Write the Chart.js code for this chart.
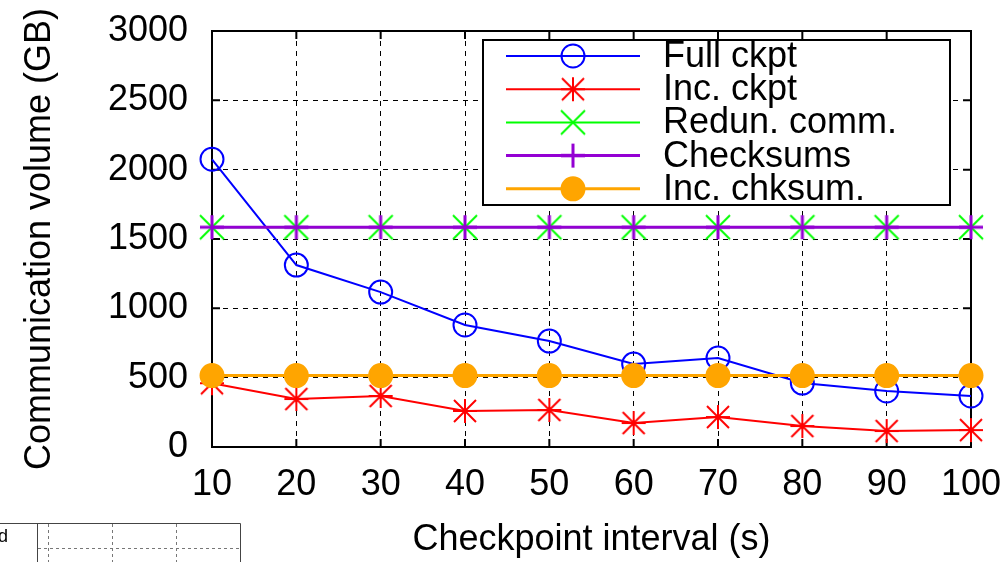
<!DOCTYPE html>
<html>
<head>
<meta charset="utf-8">
<script src="https://cdn.jsdelivr.net/npm/chart.js@4/dist/chart.umd.min.js"></script>
<style>
  html, body { margin: 0; padding: 0; background: #fff; }
  #wrap { width: 1004px; height: 562px; }
</style>
</head>
<body>
<div id="wrap"><canvas id="volChart" width="1004" height="562"></canvas></div>
<script>
// checkpoint intervals (s)
const intervals = ["10", "20", "30", "40", "50", "60", "70", "80", "90", "100"];

// communication volume (GB)
const fullCkpt = [2075, 1312, 1117, 880, 764, 598, 642, 461, 404, 368];
const incCkpt = [460, 346, 368, 260, 267, 173, 216, 151, 115, 122];
const redunComm = [1585, 1585, 1585, 1585, 1585, 1585, 1585, 1585, 1585, 1585];
const checksums = [1585, 1585, 1585, 1585, 1585, 1585, 1585, 1585, 1585, 1585];
const incChksum = [515, 515, 515, 515, 515, 515, 515, 515, 515, 515];

const yTicks = [0, 500, 1000, 1500, 2000, 2500, 3000];

const FONT = "'Liberation Sans', Arial, sans-serif";

// gnuplot-like markers drawn on small canvases
function marker(color, lw, cross, diag, r) {
    const c = document.createElement('canvas');
    const s = 2 * r + 4;
    c.width = s; c.height = s;
    const g = c.getContext('2d');
    const m = s / 2;
    g.strokeStyle = color;
    g.lineWidth = lw;
    g.beginPath();
    if (cross) {
        g.moveTo(m - r, m); g.lineTo(m + r, m);
        g.moveTo(m, m - r); g.lineTo(m, m + r);
    }
    if (diag) {
        const d = diag;
        g.moveTo(m - d, m - d); g.lineTo(m + d, m + d);
        g.moveTo(m - d, m + d); g.lineTo(m + d, m - d);
    }
    g.stroke();
    return c;
}

function series(label, values, color, style, radius, filled, width, order) {
    return {
        label: label,
        data: values,
        borderColor: color,
        backgroundColor: filled ? color : 'rgba(0,0,0,0)',
        pointBackgroundColor: filled ? color : 'rgba(0,0,0,0)',
        pointBorderColor: color,
        pointStyle: style,
        pointRadius: radius,
        pointBorderWidth: 2,
        borderWidth: width,
        tension: 0,
        clip: false,
        order: order
    };
}

const datasets = [
    series("Full ckpt", fullCkpt, '#0000ff', 'circle', 11.5, false, 2, 5),
    series("Inc. ckpt", incCkpt, '#ff0000', marker('#ff0000', 2, true, 11, 12), 12, false, 2, 4),
    series("Redun. comm.", redunComm, '#00ff00', marker('#00ff00', 2, false, 12, 12), 12, false, 2, 3),
    series("Checksums", checksums, '#9400d3', marker('#9400d3', 3, true, 0, 12), 12, false, 3, 2),
    series("Inc. chksum.", incChksum, '#ffa500', 'circle', 11.5, true, 3, 1)
];

// frame, inward ticks, and the stray corner of the neighbouring figure
const frame = {
    id: 'frame',
    beforeDatasetsDraw(chart) {
        const a = chart.chartArea, ctx = chart.ctx;
        const xs = chart.scales.x, ys = chart.scales.y;
        ctx.save();
        ctx.strokeStyle = '#000';
        ctx.lineWidth = 2;
        ctx.strokeRect(a.left, a.top, a.right - a.left, a.bottom - a.top);
        ctx.beginPath();
        yTicks.forEach(v => {
            const y = ys.getPixelForValue(v);
            ctx.moveTo(a.left, y); ctx.lineTo(a.left + 8, y);
            ctx.moveTo(a.right, y); ctx.lineTo(a.right - 8, y);
        });
        intervals.forEach((l, i) => {
            const x = xs.getPixelForValue(i);
            ctx.moveTo(x, a.bottom); ctx.lineTo(x, a.bottom - 8);
            ctx.moveTo(x, a.top); ctx.lineTo(x, a.top + 8);
        });
        ctx.stroke();
        ctx.restore();
    },
    afterDraw(chart) {
        const ctx = chart.ctx;
        ctx.save();
        ctx.strokeStyle = '#444';
        ctx.lineWidth = 1;
        ctx.beginPath();
        ctx.moveTo(0, 523.5); ctx.lineTo(240.5, 523.5); ctx.lineTo(240.5, 562);
        ctx.moveTo(37.5, 523.5); ctx.lineTo(37.5, 562);
        ctx.stroke();
        ctx.strokeStyle = '#777';
        ctx.setLineDash([3, 3]);
        ctx.beginPath();
        [48.5, 112.5, 176.5].forEach(x => { ctx.moveTo(x, 524); ctx.lineTo(x, 562); });
        ctx.moveTo(38, 548.5); ctx.lineTo(240, 548.5);
        ctx.stroke();
        ctx.fillStyle = '#000';
        ctx.font = "18px " + FONT;
        ctx.textBaseline = 'alphabetic';
        ctx.fillText('d', -2, 542);
        ctx.restore();
    }
};

// gnuplot style key: line sample with marker in the middle
const key = {
    id: 'key',
    afterDatasetsDraw(chart) {
        const ctx = chart.ctx;
        const box = { x: 483, y: 40, w: 467, h: 165 };
        ctx.save();
        ctx.fillStyle = '#fff';
        ctx.fillRect(box.x, box.y, box.w, box.h);
        ctx.strokeStyle = '#000';
        ctx.lineWidth = 2;
        ctx.strokeRect(box.x, box.y, box.w, box.h);
        chart.data.datasets.forEach((ds, i) => {
            const y = 56 + i * 33.2;
            ctx.strokeStyle = ds.borderColor;
            ctx.lineWidth = ds.borderWidth;
            ctx.beginPath();
            ctx.moveTo(506, y);
            ctx.lineTo(640, y);
            ctx.stroke();
            ctx.fillStyle = ds.pointBackgroundColor;
            ctx.lineWidth = ds.pointBorderWidth;
            Chart.helpers.drawPoint(ctx, {
                pointStyle: ds.pointStyle,
                radius: ds.pointRadius,
                rotation: 0,
                borderWidth: ds.pointBorderWidth
            }, 573, y);
            ctx.fillStyle = '#000';
            ctx.font = "36px " + FONT;
            ctx.textBaseline = 'middle';
            ctx.textAlign = 'left';
            ctx.fillText(ds.label, 663, y + 1);
        });
        ctx.restore();
    }
};

window.onload = function() {
    const ctx = document.getElementById('volChart').getContext('2d');
    new Chart(ctx, {
        type: 'line',
        data: { labels: intervals, datasets: datasets },
        options: {
            responsive: false,
            animation: false,
            layout: { padding: { top: 31, right: 33, left: 0, bottom: 0 } },
            plugins: { legend: { display: false }, tooltip: { enabled: false } },
            scales: {
                x: {
                    type: 'category',
                    offset: false,
                    grid: { color: '#000', lineWidth: 1, drawTicks: false },
                    border: { display: true, color: '#000', width: 2, dash: [5, 5] },
                    ticks: { color: '#000', font: { family: FONT, size: 36 }, padding: 16, maxRotation: 0, autoSkip: false },
                    title: { display: true, text: 'Checkpoint interval (s)', color: '#000', font: { family: FONT, size: 36 }, padding: { top: 0, bottom: 0 } },
                    afterFit(scale) {
                        scale.height = 115;
                        scale.paddingLeft = 0;
                        scale.paddingRight = 0;
                    }
                },
                y: {
                    min: 0,
                    max: 3000,
                    afterBuildTicks(scale) { scale.ticks = yTicks.map(v => ({ value: v })); },
                    grid: { color: '#000', lineWidth: 1, drawTicks: false },
                    border: { display: true, color: '#000', width: 2, dash: [5, 5] },
                    ticks: { color: '#000', font: { family: FONT, size: 36 }, padding: 24, callback: v => String(v) },
                    title: { display: true, text: 'Communication volume (GB)', color: '#000', font: { family: FONT, size: 36 }, padding: { top: 18, bottom: 0 } },
                    afterFit(scale) {
                        scale.width = 212;
                        scale.paddingTop = 0;
                        scale.paddingBottom = 0;
                    }
                }
            }
        },
        plugins: [frame, key]
    });
};
</script>
</body>
</html>
